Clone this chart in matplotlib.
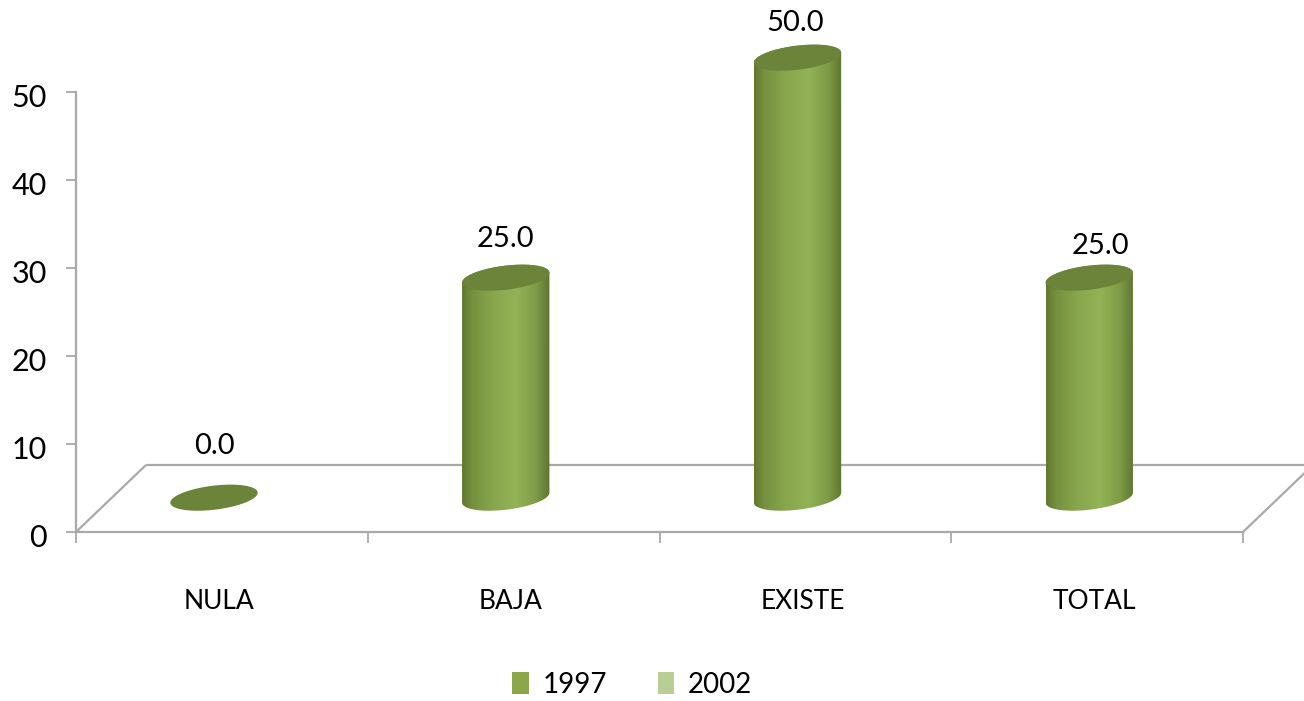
import numpy as np
import matplotlib
matplotlib.use("Agg")
import matplotlib.pyplot as plt
from matplotlib.colors import LinearSegmentedColormap
from matplotlib.patches import Patch, PathPatch
from matplotlib.path import Path
from matplotlib.transforms import ScaledTranslation

categories = ["NULA", "BAJA", "EXISTE", "TOTAL"]
series_names = ["1997", "2002"]
values_1997 = [0.0, 25.0, 50.0, 25.0]
y_ticks = [0, 10, 20, 30, 40, 50]

W, H = 1304, 701
plt.rcParams["font.family"] = ["Lato", "DejaVu Sans"]
GREY = "#A9A9A9"

fig = plt.figure(figsize=(W / 100, H / 100), dpi=100, facecolor="white")
L, R, T, B = 76, 1243, 92, 532
ax = fig.add_axes([L / W, 1 - B / H, (R - L) / W, (B - T) / H])
ax.set_facecolor("none")
px_x = (R - L) / 4
px_y = (B - T) / 50

for s in ("top", "right"):
    ax.spines[s].set_visible(False)
for s in ("left", "bottom"):
    ax.spines[s].set_color(GREY)
    ax.spines[s].set_linewidth(1.6)

ax.set_yticks(y_ticks)
ax.set_xticks(range(5))
ax.set_xticklabels([])
ax.set_xticks([i + 0.5 for i in range(4)], categories, minor=True, fontsize=19)
ax.tick_params(axis="x", which="major", length=8, width=1.3, color=GREY)
ax.tick_params(axis="x", which="minor", length=0, pad=41)
ax.tick_params(axis="y", length=7, width=1.3, color=GREY, labelsize=22, pad=14)
shift = ScaledTranslation(0, -3.5 / 100, fig.dpi_scale_trans)
for lab in ax.get_yticklabels():
    lab.set_transform(lab.get_transform() + shift)
for lab in ax.get_xticklabels(minor=True):
    lab.set_transform(lab.get_transform() + ScaledTranslation(-3 / 100, 0, fig.dpi_scale_trans))

dx, dy = 70 / px_x, 67 / px_y
floor_kw = dict(color=GREY, lw=1.6, clip_on=False, zorder=1, solid_capstyle="butt")
ax.plot([0, dx], [0, dy], **floor_kw)
ax.plot([4, 4 + dx], [0, dy], **floor_kw)
ax.plot([dx, 4 + dx], [dy, dy], **floor_kw)

cmap = LinearSegmentedColormap.from_list(
    "cyl",
    [(0, "#61782F"), (0.12, "#76913F"), (0.35, "#88A64C"), (0.62, "#93B356"),
     (0.85, "#7D9A45"), (1, "#5D7530")],
)
grad = np.linspace(0, 1, 256).reshape(1, -1)
SEMI_A, SEMI_B, TILT = 44.0, 12.0, np.radians(7)
T0 = np.arctan(-(SEMI_B / SEMI_A) * np.tan(TILT))
base_x, base_y = 0.473, 3.9


def ellipse(cx, cy, t):
    px = SEMI_A * np.cos(t) * np.cos(TILT) - SEMI_B * np.sin(t) * np.sin(TILT)
    py = SEMI_A * np.cos(t) * np.sin(TILT) + SEMI_B * np.sin(t) * np.cos(TILT)
    return cx + px / px_x, cy + py / px_y


label_off = [(0, 52), (0, 39), (-2, 35), (11, 32)]
for i, v in enumerate(values_1997):
    cx = i + base_x
    xb, yb = ellipse(cx, base_y, np.linspace(np.pi + T0, 2 * np.pi + T0, 80))
    xt, yt = ellipse(cx, base_y + v, np.linspace(T0, np.pi + T0, 80))
    if v > 0:
        verts = np.r_[np.c_[xb, yb], np.c_[xt, yt]]
        im = ax.imshow(grad, cmap=cmap, aspect="auto", zorder=3,
                       extent=(xb.min(), xb.max(), yb.min(), yt.max()))
        im.set_clip_box(fig.bbox)
        im.set_clip_path(PathPatch(Path(np.r_[verts, verts[:1]]), transform=ax.transData))
    xe, ye = ellipse(cx, base_y + v, np.linspace(0, 2 * np.pi, 160))
    ax.fill(xe, ye, color="#6B8439", zorder=4, clip_on=False, lw=0)
    ax.annotate(f"{v:.1f}", (cx, base_y + v), xytext=label_off[i],
                textcoords="offset pixels", ha="center", va="center",
                fontsize=21, color="black", annotation_clip=False, zorder=5)

ax.set_xlim(0, 4)
ax.set_ylim(0, 50)

handles = [Patch(facecolor="#8BA64B", label=series_names[0]),
           Patch(facecolor="#B9CE94", label=series_names[1])]
fig.legend(handles=handles, loc="center", bbox_to_anchor=(632 / W, 1 - 685 / H),
           ncol=2, frameon=False, fontsize=20, handlelength=0.61, handleheight=0.83,
           handletextpad=0.47, columnspacing=1.83)

fig.savefig("out.png", dpi=100, facecolor="white")
